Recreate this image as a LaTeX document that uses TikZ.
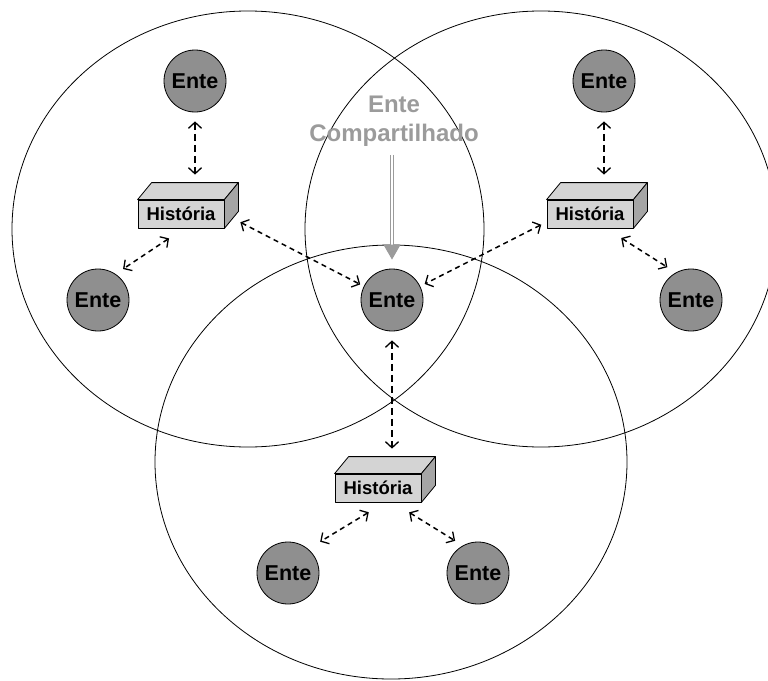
\documentclass[tikz,border=0pt]{standalone}
\usepackage{fontspec}
\setmainfont{Liberation Sans}
\usetikzlibrary{arrows.meta,calc}

\definecolor{cinzaente}{RGB}{143,143,143}
\definecolor{cinzaclaro}{RGB}{212,212,212}
\definecolor{cinzaescuro}{RGB}{165,165,165}
\definecolor{cinzatexto}{RGB}{155,155,155}

% caixa 3D com o texto História
\newcommand{\historia}[2]{%
  \node[caixa] (#1) at (#2) {História};
  \filldraw[fill=cinzaclaro, line width=0.8pt] (#1.north west) -- ++(14,-17) -- ($(#1.north east)+(14,-17)$) -- (#1.north east) -- cycle;
  \filldraw[fill=cinzaescuro, line width=0.8pt] (#1.north east) -- ++(14,-17) -- ($(#1.south east)+(14,-17)$) -- (#1.south east) -- cycle;
  \coordinate (#1-topo) at ($(#1.north)+(14,-17)$);
}

\begin{document}
\begin{tikzpicture}[x=1pt, y=-1pt, line join=round,
    ente/.style={circle, draw, line width=0.8pt, fill=cinzaente, minimum size=62pt, inner sep=0pt,
      font=\fontsize{21.5}{22}\selectfont\bfseries},
    caixa/.style={draw, line width=0.8pt, fill=cinzaclaro, minimum width=86pt, minimum height=28pt, inner sep=0pt,
      font=\fontsize{18.5}{19}\selectfont\bfseries},
    seta/.style={{Straight Barb[length=6pt,width=13pt,line width=1.3pt]}-{Straight Barb[length=6pt,width=13pt,line width=1.3pt]},
      line width=1.5pt, dash pattern=on 5pt off 4pt},
    setagrossa/.style={seta, line width=2.5pt, dash pattern=on 7pt off 4pt}]
    \useasboundingbox (0,0) rectangle (768,680);

    % Os três círculos
    \draw[line width=0.8pt] (248,229) ellipse [x radius=236, y radius=218];
    \draw[line width=0.8pt] (541,229) ellipse [x radius=236, y radius=218];
    \draw[line width=0.8pt] (391,462) ellipse [x radius=236, y radius=217];

    % Entes
    \node[ente] (eTL) at (195,81) {Ente};
    \node[ente] (eTR) at (604,81) {Ente};
    \node[ente] (eL) at (98,300) {Ente};
    \node[ente] (eC) at (392,300) {Ente};
    \node[ente] (eR) at (691,300) {Ente};
    \node[ente] (eBL) at (288,573) {Ente};
    \node[ente] (eBR) at (478,573) {Ente};

    % Histórias
    \historia{hTL}{181,214}
    \historia{hTR}{590,214}
    \historia{hB}{378,488}

    % Ente compartilhado
    \node[font=\fontsize{24}{29}\selectfont\bfseries, text=cinzatexto, align=center] (rotulo) at (394,121) {Ente\\Compartilhado};
    \draw[cinzatexto, line width=1pt, double=white, double distance=2.5pt,
      -{Triangle[length=15pt,width=17pt]}, shorten <=5pt, shorten >=9pt] (rotulo.south -| eC) -- (eC);

    % Ligações
    \draw[setagrossa, shorten <=9pt, shorten >=8pt] (eTL) -- (hTL-topo);
    \draw[setagrossa, shorten <=9pt, shorten >=8pt] (eTR) -- (hTR-topo);
    \draw[setagrossa, shorten <=9pt, shorten >=8pt] (eC) -- (hB-topo);
    \draw[seta, shorten <=18pt, shorten >=9pt] ([xshift=3pt]hTL.south) -- (eL.56);
    \draw[seta, shorten <=18pt, shorten >=4pt] (hTL.east) -- (eC.154);
    \draw[seta, shorten <=6pt, shorten >=5pt] ([yshift=-8pt]hTR.west) -- (eC.26);
    \draw[seta, shorten <=18pt, shorten >=10pt] ([xshift=16pt]hTR.south) -- (eR.119);
    \draw[seta, shorten <=19pt, shorten >=14pt] ([xshift=7pt]hB.south) -- (eBL.50);
    \draw[seta, shorten <=19pt, shorten >=9pt] ([xshift=15pt]hB.south) -- (eBR.119);
\end{tikzpicture}
\end{document}
